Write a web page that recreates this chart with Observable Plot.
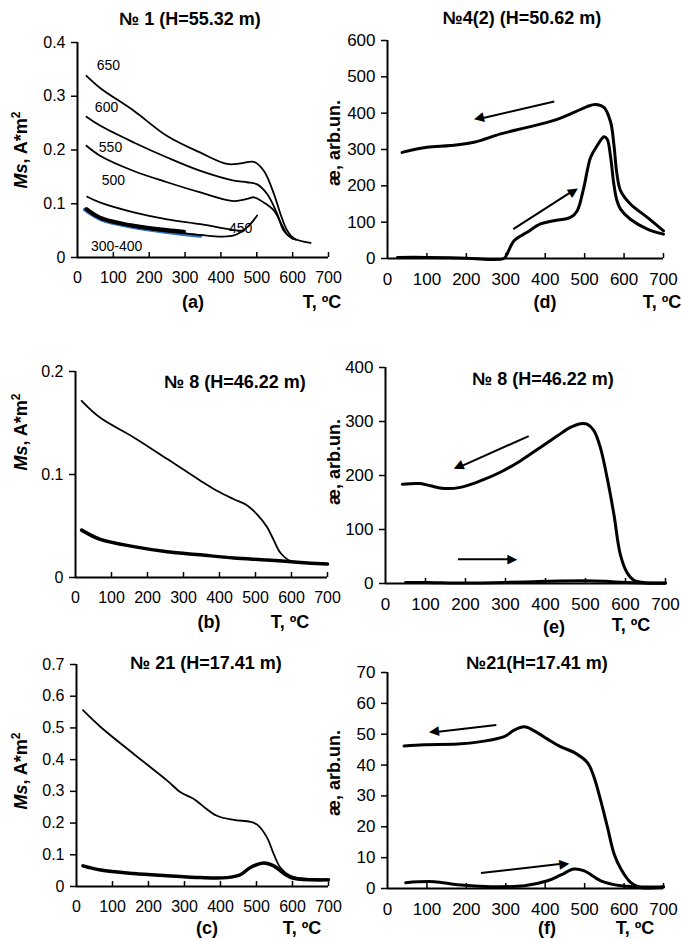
<!DOCTYPE html>
<html><head><meta charset="utf-8">
<script src="https://cdn.jsdelivr.net/npm/d3@7"></script>
<script src="https://cdn.jsdelivr.net/npm/@observablehq/plot@0.6"></script>
<style>
body{margin:0;background:#fff;}
#page{position:relative;width:681px;height:939px;font-family:"Liberation Sans",Arial,sans-serif;color:#000;overflow:hidden;}
.lbl{position:absolute;transform:translate(-50%,-50%);font-weight:bold;white-space:nowrap;font-size:18px;line-height:1;}
.ylab{position:absolute;transform:translate(-50%,-50%) rotate(-90deg);font-weight:bold;white-space:nowrap;font-size:18px;line-height:1;}
.ylab sup{font-size:12px;}
</style></head><body><div id="page"></div>
<script>
// ---------- data ----------
const xTicks = [0, 100, 200, 300, 400, 500, 600, 700];

// (a) No 1 Ms(T) after heating to different temperatures
const a650 = [[25,0.338],[64,0.315],[157,0.273],[250,0.226],[343,0.195],[417,0.174],[455,0.175],[492,0.178],[520,0.161],[548,0.118],[566,0.081],[585,0.050],[603,0.036],[650,0.027]];
const a600 = [[25,0.262],[64,0.245],[157,0.214],[250,0.186],[343,0.161],[436,0.143],[473,0.140],[501,0.136],[529,0.118],[557,0.081],[575,0.050],[595,0.037],[610,0.033]];
const a550 = [[25,0.208],[64,0.189],[157,0.161],[250,0.140],[343,0.121],[436,0.105],[473,0.109],[492,0.112],[520,0.102],[548,0.087],[571,0.059],[585,0.043],[600,0.035]];
const a500 = [[27,0.113],[64,0.102],[157,0.084],[250,0.071],[343,0.062],[436,0.051],[464,0.050]];
const a450 = [[25,0.089],[64,0.072],[157,0.057],[250,0.048],[343,0.042],[400,0.039],[436,0.041],[473,0.056],[501,0.078]];
const a300_400 = [[25,0.090],[64,0.074],[157,0.059],[250,0.051],[297,0.048]];
const a300_400blue = [[20,0.089],[64,0.071],[157,0.056],[250,0.047],[343,0.040]];
const aLabels = [
  {T:86, v:0.357, t:"650"}, {T:81, v:0.279, t:"600"}, {T:92, v:0.205, t:"550"},
  {T:100, v:0.143, t:"500"}, {T:455, v:0.054, t:"450"}, {T:109, v:0.020, t:"300-400"}
];
const aTicks = [0, 0.1, 0.2, 0.3, 0.4];

// (d) No 4(2) susceptibility
const dCool = [[37,292],[100,306],[160,311],[219,320],[287,343],[354,361],[422,380],[473,402],[506,418],[527,424],[549,416],[566,375],[574,315],[582,232],[591,187],[616,150],[659,113],[700,76]];
const dHeat = [[25,3],[100,3],[200,1],[295,0],[303,12],[321,49],[354,72],[388,95],[422,104],[464,113],[481,131],[498,196],[515,278],[532,311],[549,335],[557,329],[566,278],[574,205],[582,159],[591,136],[616,108],[659,81],[700,67]];
const dArrows = [{x1:423,y1:432,x2:232,y2:384},{x1:319,y1:81,x2:471,y2:187}];
const dTicks = [0, 100, 200, 300, 400, 500, 600];

// (b) No 8 Ms(T)
const bThin = [[17,0.1715],[69,0.155],[162,0.136],[255,0.115],[347,0.094],[394,0.084],[440,0.076],[477,0.070],[505,0.061],[532,0.049],[551,0.036],[569,0.024],[597,0.016],[620,0.015]];
const bThick = [[17,0.046],[69,0.037],[162,0.030],[255,0.025],[347,0.022],[440,0.019],[532,0.017],[625,0.0146],[700,0.013]];
const bTicks = [0, 0.1, 0.2];

// (e) No 8 susceptibility
const eCool = [[42,184],[87,185],[112,181],[146,176],[187,178],[237,190],[287,206],[337,227],[387,252],[429,273],[462,289],[487,296],[504,295],[521,283],[537,252],[554,196],[571,128],[587,54],[604,20],[621,6],[654,1],[700,0.5]];
const eHeat = [[50,2],[100,2],[200,1],[300,2],[400,4],[500,5],[550,4],[600,2],[650,1],[700,1]];
const eArrows = [{x1:358,y1:273,x2:183,y2:215},{x1:181,y1:45,x2:317,y2:45}];
const eTicks = [0, 100, 200, 300, 400];

// (c) No 21 Ms(T)
const cThin = [[18,0.556],[67,0.503],[159,0.418],[252,0.334],[289,0.297],[326,0.276],[344,0.260],[390,0.223],[437,0.210],[483,0.204],[502,0.195],[529,0.155],[548,0.102],[566,0.060],[594,0.034],[622,0.026],[700,0.021]];
const cThick = [[18,0.065],[67,0.052],[159,0.041],[252,0.034],[344,0.028],[418,0.028],[455,0.037],[483,0.060],[520,0.074],[548,0.065],[576,0.041],[603,0.026],[700,0.021]];
const cTicks = [0, 0.1, 0.2, 0.3, 0.4, 0.5, 0.6, 0.7];

// (f) No 21 susceptibility
const fCool = [[42,46.2],[93,46.6],[178,46.8],[237,47.6],[296,49.2],[321,51.3],[347,52.4],[372,51.1],[406,48.4],[440,45.9],[473,44.1],[507,40.8],[524,36.0],[541,28.4],[558,19.8],[575,11.1],[592,6.3],[617,1.9],[642,0.3],[700,0.5]];
const fHeat = [[46,1.9],[118,2.2],[178,1.2],[262,0.6],[347,0.9],[406,2.5],[440,4.4],[473,6.3],[499,5.7],[541,2.5],[592,0.9],[700,0.5]];
const fArrows = [{x1:276,y1:53.0,x2:118,y2:50.6},{x1:237,y1:5.0,x2:448,y2:8.1}];
const fTicks = [0, 10, 20, 30, 40, 50, 60, 70];

// ---------- drawing ----------
const FONT = '"Liberation Sans", Arial, sans-serif';
const page = document.getElementById("page");

function curve(data, sw, color = "#000") {
  return Plot.line(data, {x: d => d[0], y: d => d[1], stroke: color, strokeWidth: sw, curve: "catmull-rom", strokeLinecap: "round", strokeLinejoin: "round"});
}
// arrow = shaft (link) + filled head (rotated triangle glyph); angle from the panel's own pixel scales
function arrows(data, p) {
  const plotW = p.width - p.ml - p.mr, plotH = p.height - p.mt - p.mb;
  const yMax = p.yTicks[p.yTicks.length - 1];
  const ang = d => {
    const sx = (d.x2 - d.x1) * plotW / 700;
    const sy = -(d.y2 - d.y1) * plotH / yMax;
    return Math.atan2(sy, sx) * 180 / Math.PI;
  };
  return [
    Plot.link(data, {x1: "x1", y1: "y1", x2: "x2", y2: "y2", stroke: "#000", strokeWidth: 2}),
    Plot.text(data, {x: "x2", y: "y2", text: () => "\u25B6", rotate: ang, fontSize: 13, fill: "#000",
      textAnchor: "middle", lineAnchor: "middle", fontFamily: '"DejaVu Sans", sans-serif'})
  ];
}

function panel(p) {
  const plotW = p.width - p.ml - p.mr, plotH = p.height - p.mt - p.mb;
  const svg = Plot.plot({
    width: p.width, height: p.height,
    marginLeft: p.ml, marginRight: p.mr, marginTop: p.mt, marginBottom: p.mb,
    style: {fontSize: p.fs + "px", fontFamily: FONT, color: "#000", background: "transparent", overflow: "visible"},
    x: {domain: [0, 700], ticks: xTicks, tickSize: 0, tickPadding: 14, label: null, tickFormat: d => String(d)},
    y: {domain: [0, p.yTicks[p.yTicks.length - 1]], ticks: p.yTicks, tickSize: 0, tickPadding: 12, label: null, tickFormat: d => String(d)},
    marks: [
      ...p.marks,
      Plot.ruleX(xTicks.slice(1), {stroke: "#000", strokeWidth: 1.5, insetTop: plotH - 5}),
      Plot.ruleY(p.yTicks, {stroke: "#000", strokeWidth: 1.5, insetRight: plotW - 6, dx: -6}),
      Plot.ruleY([0], {stroke: "#000", strokeWidth: 2}),
      Plot.ruleX([0], {stroke: "#000", strokeWidth: 2})
    ]
  });
  svg.style.position = "absolute";
  svg.style.left = p.left + "px";
  svg.style.top = p.top + "px";
  page.appendChild(svg);
}

function label(html, x, y, cls = "lbl") {
  const d = document.createElement("div");
  d.className = cls;
  d.style.left = x + "px";
  d.style.top = y + "px";
  d.innerHTML = html;
  page.appendChild(d);
}

// panel layouts
const PA = {left: 0, top: 0, width: 340, height: 300, ml: 77, mr: 12, mt: 42, mb: 43, fs: 16, yTicks: aTicks};
const PD = {left: 340, top: 0, width: 341, height: 300, ml: 47, mr: 18, mt: 40, mb: 42, fs: 17, yTicks: dTicks};
const PB = {left: 0, top: 300, width: 340, height: 320, ml: 75, mr: 13, mt: 71, mb: 43, fs: 16, yTicks: bTicks};
const PE = {left: 340, top: 300, width: 341, height: 320, ml: 45, mr: 16, mt: 67, mb: 37, fs: 17, yTicks: eTicks};
const PC = {left: 0, top: 620, width: 340, height: 319, ml: 76, mr: 12, mt: 44, mb: 53, fs: 16, yTicks: cTicks};
const PF = {left: 340, top: 620, width: 341, height: 319, ml: 47, mr: 18, mt: 52, mb: 51, fs: 17, yTicks: fTicks};

panel({...PA, marks: [
  curve(a300_400blue, 3.5, "#2f6fc0"),
  curve(a650, 1.8), curve(a600, 1.8), curve(a550, 1.8), curve(a500, 1.8), curve(a450, 1.8),
  curve(a300_400, 4),
  Plot.text(aLabels, {x: "T", y: "v", text: "t", fontSize: 14, fill: "#000"})
]});
panel({...PD, marks: [curve(dHeat, 3), curve(dCool, 3), ...arrows(dArrows, PD)]});
panel({...PB, marks: [curve(bThin, 1.8), curve(bThick, 3.5)]});
panel({...PE, marks: [curve(eHeat, 3), curve(eCool, 3), ...arrows(eArrows, PE)]});
panel({...PC, marks: [curve(cThin, 1.8), curve(cThick, 3.5)]});
panel({...PF, marks: [curve(fHeat, 3), curve(fCool, 3), ...arrows(fArrows, PF)]});

// titles
label("№ 1 (H=55.32 m)", 190, 19);
label("№4(2) (H=50.62 m)", 522, 18);
label("№ 8 (H=46.22 m)", 235, 382);
label("№ 8 (H=46.22 m)", 543, 379);
label("№ 21 (H=17.41 m)", 206, 663);
label("№21(H=17.41 m)", 537, 663);

// panel letters and x-axis titles
label("(a)", 193, 302); label("T, ºC", 322, 302);
label("(d)", 545, 302); label("T, ºC", 662, 302);
label("(b)", 209, 622); label("T, ºC", 290, 622);
label("(e)", 554, 627); label("T, ºC", 631, 625);
label("(c)", 207, 928); label("T, ºC", 302, 928);
label("(f)", 547, 928); label("T, ºC", 635, 928);

// y-axis titles
const msLab = "<i>Ms</i>, A*m<sup>2</sup>";
const aeLab = "æ, arb.un.";
label(msLab, 20, 150, "ylab");
label(msLab, 20, 432, "ylab");
label(msLab, 20, 771, "ylab");
label(aeLab, 334, 143, "ylab");
label(aeLab, 334, 462, "ylab");
label(aeLab, 334, 773, "ylab");
</script>
</body></html>
